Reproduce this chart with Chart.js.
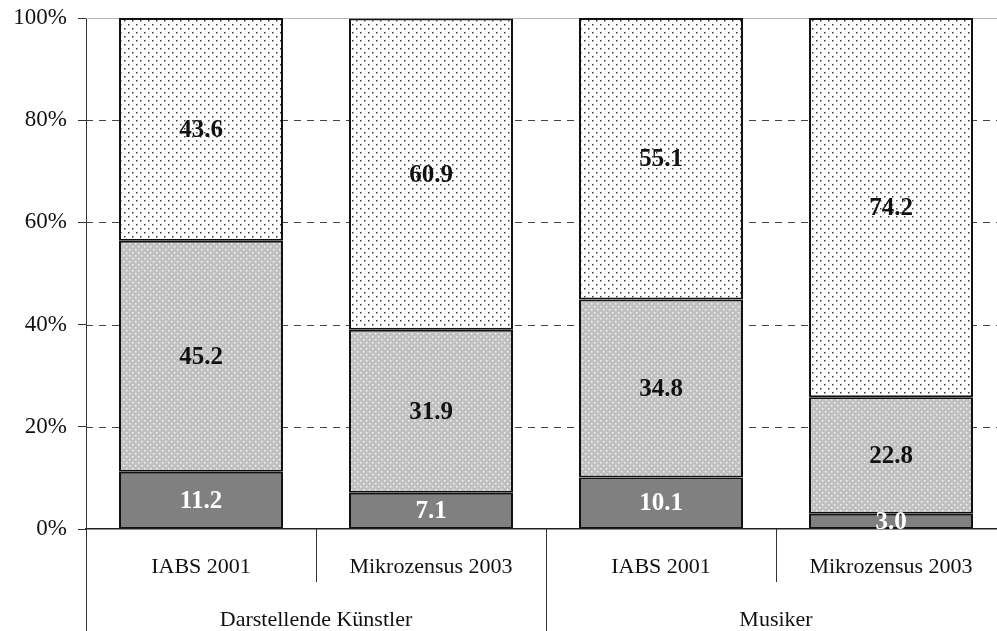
<!DOCTYPE html>
<html>
<head>
<meta charset="utf-8">
<script src="https://cdn.jsdelivr.net/npm/chart.js@4/dist/chart.umd.min.js"></script>
<style>
  html, body { margin: 0; padding: 0; background: #fff; overflow: hidden; }
  #wrap { width: 1006px; height: 631px; position: relative; }
</style>
</head>
<body>
<div id="wrap"><canvas id="chart"></canvas></div>
<script>
// Chart data
const categories = ["IABS 2001", "Mikrozensus 2003", "IABS 2001", "Mikrozensus 2003"];
const groupLabels = ["Darstellende Künstler", "Musiker"];
const groupSizes = [2, 2];
const lowShare = [11.2, 7.1, 10.1, 3.0];
const midShare = [45.2, 31.9, 34.8, 22.8];
const highShare = [43.6, 60.9, 55.1, 74.2];

const FONT = "'Liberation Serif', 'DejaVu Serif', serif";

// Dotted fill patterns
function makePattern(bg, dot, size, dotSize) {
    const c = document.createElement("canvas");
    c.width = size;
    c.height = size;
    const g = c.getContext("2d");
    g.fillStyle = bg;
    g.fillRect(0, 0, size, size);
    g.fillStyle = dot;
    g.fillRect(0, 0, dotSize, dotSize);
    g.fillRect(size / 2, size / 2, dotSize, dotSize);
    return g.createPattern(c, "repeat");
}

const ctx = document.getElementById("chart").getContext("2d");
const midPattern = makePattern("#c0c0c0", "#f4f4f4", 6, 1.5);
const highPattern = makePattern("#ffffff", "#3a3a3a", 8, 1.5);

// Dashed grid lines behind the bars
const gridPlugin = {
    id: "gridLines",
    beforeDatasetsDraw(chart) {
        const { ctx, chartArea, scales } = chart;
        const y = scales.y;
        ctx.save();
        y.ticks.forEach(t => {
            if (t.value === 0) return;
            const py = Math.round(y.getPixelForValue(t.value)) + 0.5;
            ctx.beginPath();
            if (t.value === 100) {
                ctx.setLineDash([]);
                ctx.strokeStyle = "#b8b8b8";
            } else {
                ctx.setLineDash([7, 6]);
                ctx.strokeStyle = "#444";
            }
            ctx.lineWidth = 1;
            ctx.moveTo(chartArea.left, py);
            ctx.lineTo(chartArea.right, py);
            ctx.stroke();
        });
        ctx.restore();
    }
};

// Values inside the segments
const valuePlugin = {
    id: "segmentValues",
    afterDatasetsDraw(chart) {
        const { ctx } = chart;
        ctx.save();
        ctx.font = "bold 25px " + FONT;
        ctx.textAlign = "center";
        ctx.textBaseline = "middle";
        chart.data.datasets.forEach((ds, di) => {
            const meta = chart.getDatasetMeta(di);
            meta.data.forEach((bar, i) => {
                const p = bar.getProps(["x", "y", "base"], true);
                ctx.fillStyle = di === 0 ? "#ffffff" : "#111111";
                ctx.fillText(ds.data[i].toFixed(1), p.x, (p.y + p.base) / 2 + 1);
            });
        });
        ctx.restore();
    }
};

// Two-level category axis
const groupAxisPlugin = {
    id: "groupAxis",
    afterDraw(chart) {
        const { ctx, chartArea, scales } = chart;
        const x = scales.x;
        const h = chart.height;
        const bottom = chartArea.bottom;
        const half = (x.getPixelForValue(1) - x.getPixelForValue(0)) / 2;

        ctx.save();
        ctx.strokeStyle = "#333";
        ctx.lineWidth = 1;

        // y axis line carried down to the page edge
        ctx.beginPath();
        ctx.moveTo(Math.round(chartArea.left) + 0.5, bottom);
        ctx.lineTo(Math.round(chartArea.left) + 0.5, h);
        ctx.stroke();

        ctx.fillStyle = "#111";
        ctx.font = "22px " + FONT;
        ctx.textAlign = "center";
        ctx.textBaseline = "alphabetic";
        categories.forEach((label, i) => {
            ctx.fillText(label, x.getPixelForValue(i), bottom + 44);
        });

        let start = 0;
        groupLabels.forEach((label, g) => {
            const end = start + groupSizes[g] - 1;
            const left = x.getPixelForValue(start) - half;
            const right = x.getPixelForValue(end) + half;
            ctx.fillText(label, (left + right) / 2, bottom + 97);

            for (let i = start; i < end; i++) {
                const px = Math.round(x.getPixelForValue(i) + half) + 0.5;
                ctx.beginPath();
                ctx.moveTo(px, bottom);
                ctx.lineTo(px, bottom + 53);
                ctx.stroke();
            }
            if (g < groupLabels.length - 1) {
                const px = Math.round(right) + 0.5;
                ctx.beginPath();
                ctx.moveTo(px, bottom);
                ctx.lineTo(px, h);
                ctx.stroke();
            }
            start = end + 1;
        });
        ctx.restore();
    }
};

const barStyle = {
    borderColor: "#111111",
    borderWidth: 2,
    borderSkipped: false,
    barPercentage: 0.713,
    categoryPercentage: 1.0,
};

new Chart(ctx, {
    type: "bar",
    data: {
        labels: categories,
        datasets: [
            { label: "low", data: lowShare, backgroundColor: "#808080", ...barStyle },
            { label: "mid", data: midShare, backgroundColor: midPattern, ...barStyle },
            { label: "high", data: highShare, backgroundColor: highPattern, ...barStyle },
        ],
    },
    options: {
        responsive: true,
        maintainAspectRatio: false,
        animation: false,
        layout: { padding: { top: 18, left: 0, right: 0, bottom: 0 } },
        plugins: {
            legend: { display: false },
            tooltip: { enabled: false },
        },
        scales: {
            x: {
                stacked: true,
                ticks: { display: false },
                grid: { display: false },
                border: { display: true, color: "#222", width: 1.5 },
                afterFit: scale => {
                    scale.height = 102;
                    scale.paddingLeft = 0;
                    scale.paddingRight = 0;
                },
            },
            y: {
                stacked: true,
                min: 0,
                max: 100,
                ticks: {
                    stepSize: 20,
                    padding: 11,
                    color: "#111",
                    font: { family: FONT, size: 23 },
                    callback: v => v + "%",
                },
                grid: {
                    drawOnChartArea: false,
                    drawTicks: true,
                    tickLength: 8,
                    tickColor: "#333",
                },
                border: { display: true, color: "#333", width: 1 },
                afterFit: scale => {
                    scale.width = 86;
                    scale.paddingTop = 0;
                    scale.paddingBottom = 0;
                },
            },
        },
    },
    plugins: [gridPlugin, valuePlugin, groupAxisPlugin],
});
</script>
</body>
</html>
